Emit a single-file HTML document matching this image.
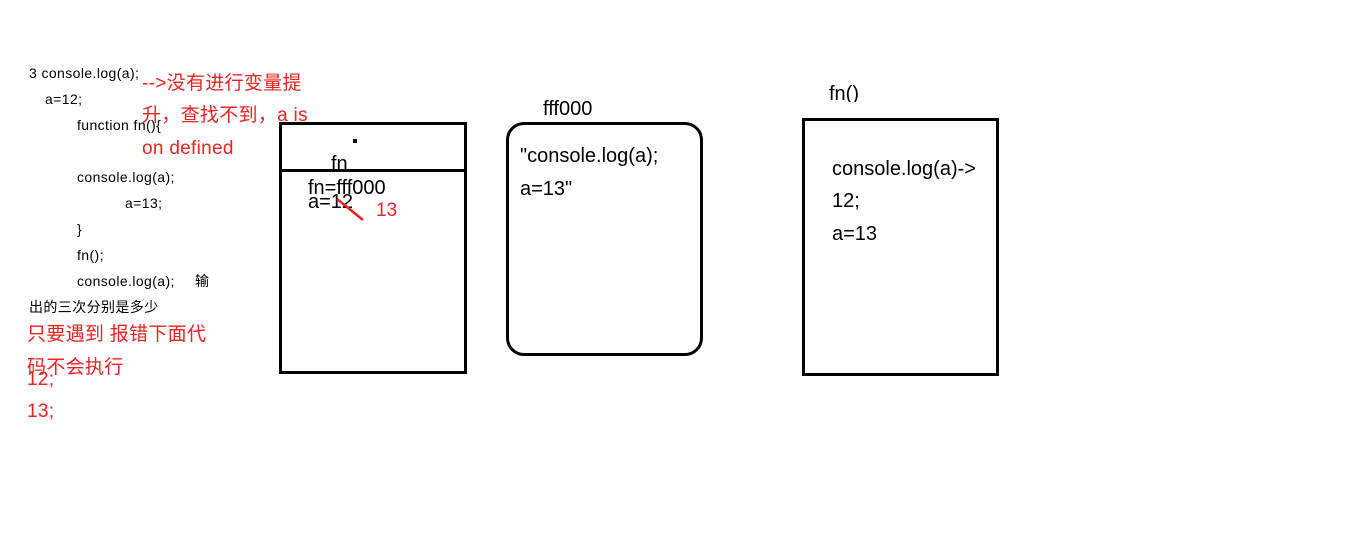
<!DOCTYPE html>
<html><head><meta charset="utf-8"><style>
body{margin:0;width:1359px;height:559px;background:#fff;position:relative;overflow:hidden;font-family:"Liberation Sans","Noto Sans CJK SC",sans-serif}
.t{position:absolute;white-space:nowrap;line-height:20px}
.s{font-size:14px;color:#000;letter-spacing:0.4px}
.r{font-size:19px;color:#ee2222;letter-spacing:0.3px}
.b{font-size:20px;color:#000}
.box{position:absolute;border:3px solid #000;box-sizing:border-box}
</style></head><body>
<div class="t s" style="left:29px;top:63px">3 console.log(a);</div>
<div class="t s" style="left:45px;top:89px">a=12;</div>
<div class="t s" style="left:77px;top:115px">function fn(){</div>
<div class="t s" style="left:77px;top:167px">console.log(a);</div>
<div class="t s" style="left:125px;top:193px">a=13;</div>
<div class="t s" style="left:77px;top:219px">}</div>
<div class="t s" style="left:77px;top:245px">fn();</div>
<div class="t s" style="left:77px;top:271px">console.log(a);</div>
<div class="t s" style="left:195px;top:271px">输</div>
<div class="t s" style="left:29px;top:297px">出的三次分别是多少</div>
<div class="t r" style="left:142px;top:74px">--&gt;没有进行变量提</div>
<div class="t r" style="left:142px;top:106px">升，查找不到，a is</div>
<div class="t r" style="left:142px;top:139px">on defined</div>
<div class="t r" style="left:27px;top:325px">只要遇到 报错下面代</div>
<div class="t r" style="left:27px;top:358px">码不会执行</div>
<div class="t r" style="left:27px;top:370px">12;</div>
<div class="t r" style="left:27px;top:402px">13;</div>

<div class="box" style="left:279px;top:122px;width:188px;height:252px"></div>
<div style="position:absolute;left:279px;top:169px;width:188px;height:3px;background:#000"></div>
<div style="position:absolute;left:353px;top:139px;width:4px;height:4px;background:#000"></div>
<div class="t b" style="left:331px;top:154px">fn</div>
<div class="t b" style="left:308px;top:178px">fn=fff000</div>
<div class="t b" style="left:308px;top:192px">a=12</div>
<svg style="position:absolute;left:0;top:0" width="1359" height="559"><line x1="337" y1="199" x2="363" y2="220" stroke="#ee2222" stroke-width="2.5"/></svg>
<div class="t b" style="left:376px;top:201px;color:#ee2222;font-size:19px">13</div>

<div class="t b" style="left:543px;top:99px">fff000</div>
<div class="box" style="left:506px;top:122px;width:197px;height:234px;border-radius:18px"></div>
<div class="t b" style="left:520px;top:146px">"console.log(a);</div>
<div class="t b" style="left:520px;top:179px">a=13"</div>

<div class="t b" style="left:829px;top:84px;height:18px;overflow:hidden">fn()</div>
<div class="box" style="left:802px;top:118px;width:197px;height:258px;background:transparent"></div>
<div class="t b" style="left:832px;top:159px">console.log(a)-&gt;</div>
<div class="t b" style="left:832px;top:191px">12;</div>
<div class="t b" style="left:832px;top:224px">a=13</div>
</body></html>
